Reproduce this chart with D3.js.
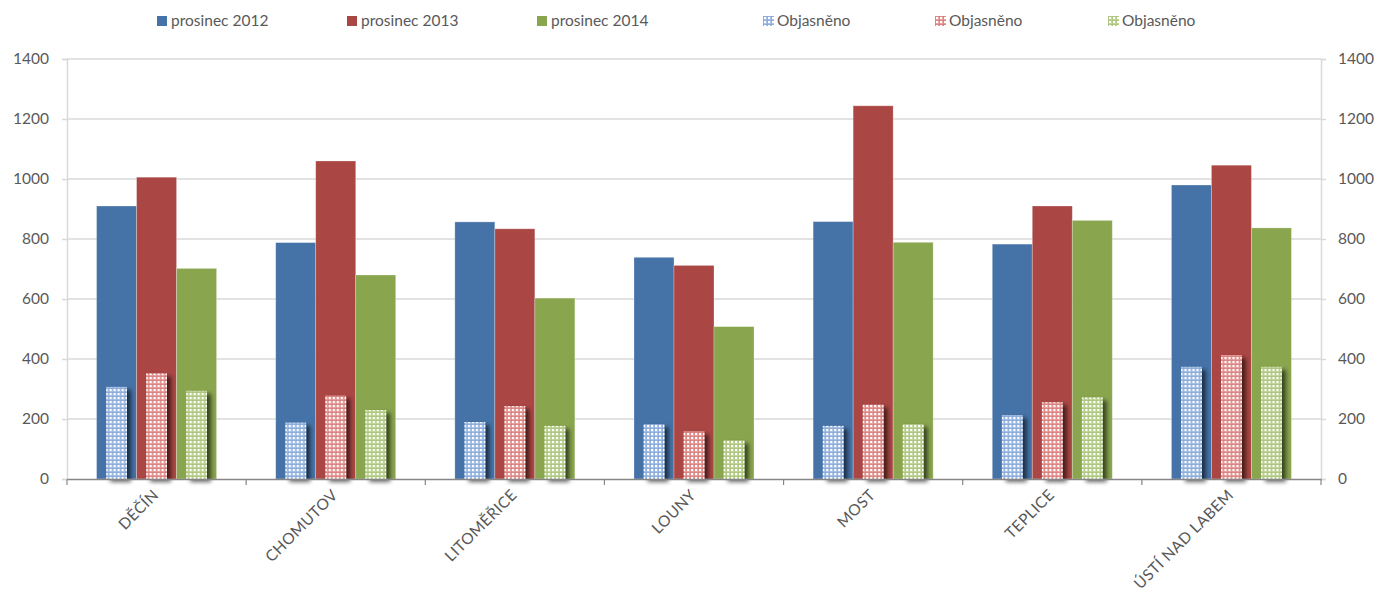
<!DOCTYPE html>
<html>
<head>
<meta charset="utf-8">
<script src="https://cdn.jsdelivr.net/npm/d3@7"></script>
<style>
  html, body { margin: 0; padding: 0; background: #fff; }
  svg { display: block; font-family: Lato, "Open Sans", sans-serif; }
</style>
</head>
<body>
<svg id="chart" width="1380" height="594"></svg>
<script>
const categories = ["DĚČÍN", "CHOMUTOV", "LITOMĚŘICE", "LOUNY", "MOST", "TEPLICE", "ÚSTÍ NAD LABEM"];
const seriesNames = ["prosinec 2012", "prosinec 2013", "prosinec 2014"];
const explainedNames = ["Objasněno", "Objasněno", "Objasněno"];
const total2012 = [910, 788, 857, 739, 858, 783, 980];
const total2013 = [1006, 1060, 834, 712, 1244, 910, 1046];
const total2014 = [702, 680, 603, 508, 789, 862, 837];
const explained2012 = [307, 188, 190, 183, 177, 213, 374];
const explained2013 = [352, 278, 243, 159, 248, 256, 413];
const explained2014 = [294, 230, 177, 129, 183, 272, 374];
const yTicks = [0, 200, 400, 600, 800, 1000, 1200, 1400];

const totals = [total2012, total2013, total2014];
const explained = [explained2012, explained2013, explained2014];
const colors = ["#4572A7", "#AA4643", "#89A54E"];
const lightColors = ["#A9C3E6", "#E9A3A1", "#C3D69C"];
const midColors = ["#7FA2D3", "#D27775", "#A5C074"];

const svg = d3.select("#chart");
const mLeft = 67, mRight = 1321, mTop = 59, mBottom = 479;

const x = d3.scaleBand().domain(categories).range([mLeft, mRight]).paddingInner(0.33).paddingOuter(0.165);
const xs = d3.scaleBand().domain([0, 1, 2]).range([0, x.bandwidth()]);
const y = d3.scaleLinear().domain([0, 1400]).range([mBottom, mTop]);

const defs = svg.append("defs");
colors.forEach((c, i) => {
  const p = defs.append("pattern").attr("id", "pat" + i).attr("patternUnits", "userSpaceOnUse")
    .attr("width", 4).attr("height", 4);
  p.append("rect").attr("width", 4).attr("height", 4).attr("fill", lightColors[i]);
  p.append("rect").attr("x", 1).attr("y", 1).attr("width", 2).attr("height", 2).attr("fill", "#ffffff");
  p.append("rect").attr("x", 0).attr("y", 0).attr("width", 1).attr("height", 4).attr("fill", midColors[i]).attr("opacity", 0.6);
  p.append("rect").attr("x", 0).attr("y", 0).attr("width", 4).attr("height", 1).attr("fill", midColors[i]).attr("opacity", 0.6);
});
const f = defs.append("filter").attr("id", "shadow").attr("x", "-30%").attr("y", "-10%").attr("width", "180%").attr("height", "130%");
f.append("feGaussianBlur").attr("in", "SourceAlpha").attr("stdDeviation", 2.2).attr("result", "b");
f.append("feOffset").attr("in", "b").attr("dx", 4).attr("dy", 3).attr("result", "o");
f.append("feComponentTransfer").attr("in", "o").attr("result", "s")
  .append("feFuncA").attr("type", "linear").attr("slope", 0.6);
const mg = f.append("feMerge");
mg.append("feMergeNode").attr("in", "s");
mg.append("feMergeNode").attr("in", "SourceGraphic");

// gridlines
svg.append("g").selectAll("line").data(yTicks.filter(d => d > 0)).join("line")
  .attr("x1", mLeft).attr("x2", mRight).attr("y1", d => y(d)).attr("y2", d => y(d))
  .attr("stroke", "#D9D9D9").attr("stroke-width", 1.5);

// left axis
const yAxisL = d3.axisLeft(y).tickValues(yTicks).tickFormat(d3.format("d")).tickSize(5).tickPadding(13);
const gL = svg.append("g").attr("transform", `translate(${mLeft},0)`).call(yAxisL);
// right axis
const yAxisR = d3.axisRight(y).tickValues(yTicks).tickFormat(d3.format("d")).tickSize(5).tickPadding(12);
const gR = svg.append("g").attr("transform", `translate(${mRight},0)`).call(yAxisR);
[gL, gR].forEach(g => {
  g.select(".domain").attr("stroke", "#D9D9D9").attr("stroke-width", 1.5);
  g.selectAll(".tick line").attr("stroke", "#D9D9D9").attr("stroke-width", 1.5);
  g.selectAll(".tick text").attr("fill", "#595959").style("font-size", "15.5px").style("font-family", "Lato, sans-serif");
});

// bars
const groups = svg.append("g").selectAll("g").data(categories).join("g")
  .attr("transform", d => `translate(${x(d)},0)`);
[0, 1, 2].forEach(s => {
  groups.append("rect")
    .attr("x", xs(s)).attr("width", xs.bandwidth())
    .attr("y", (d, i) => y(totals[s][i]))
    .attr("height", (d, i) => y(0) - y(totals[s][i]))
    .attr("fill", colors[s]).attr("stroke", "rgba(255,255,255,0.35)").attr("stroke-width", 0.8);
});
[0, 1, 2].forEach(s => {
  const w = xs.bandwidth() * 0.52;
  groups.append("rect")
    .attr("x", xs(s) + (xs.bandwidth() - w) / 2).attr("width", w)
    .attr("y", (d, i) => y(explained[s][i]))
    .attr("height", (d, i) => y(0) - y(explained[s][i]))
    .attr("fill", `url(#pat${s})`).attr("filter", "url(#shadow)");
});

// bottom axis
const xAxis = d3.axisBottom(x).tickSize(0).tickFormat("");
const gX = svg.append("g").attr("transform", `translate(0,${mBottom})`).call(xAxis);
gX.select(".domain").attr("stroke", "#868686").attr("stroke-width", 1.5);
svg.append("g").selectAll("line").data(d3.range(categories.length + 1)).join("line")
  .attr("x1", i => mLeft + i * x.step()).attr("x2", i => mLeft + i * x.step())
  .attr("y1", mBottom).attr("y2", mBottom + 6)
  .attr("stroke", "#868686").attr("stroke-width", 1.2);

svg.append("g").selectAll("text").data(categories).join("text")
  .attr("transform", d => `translate(${x(d) + x.bandwidth() / 2 + 3},${mBottom + 17}) rotate(-45)`)
  .attr("text-anchor", "end")
  .attr("fill", "#595959").style("font-size", "15.5px").style("letter-spacing", "0.4px")
  .text(d => d);

// legend
const legendX = [157, 347, 537, 763, 935, 1108];
const legendItems = seriesNames.map((n, i) => ({ name: n, fill: colors[i] }))
  .concat(explainedNames.map((n, i) => ({ name: n, fill: `url(#pat${i})` })));
const lg = svg.append("g").selectAll("g").data(legendItems).join("g")
  .attr("transform", (d, i) => `translate(${legendX[i]},16)`);
lg.append("rect").attr("width", (d, i) => i < 3 ? 10 : 11).attr("height", 10).attr("fill", d => d.fill);
lg.append("text").attr("x", 14).attr("y", 10).attr("fill", "#595959")
  .style("font-size", "15.5px").text(d => d.name);
</script>
</body>
</html>
